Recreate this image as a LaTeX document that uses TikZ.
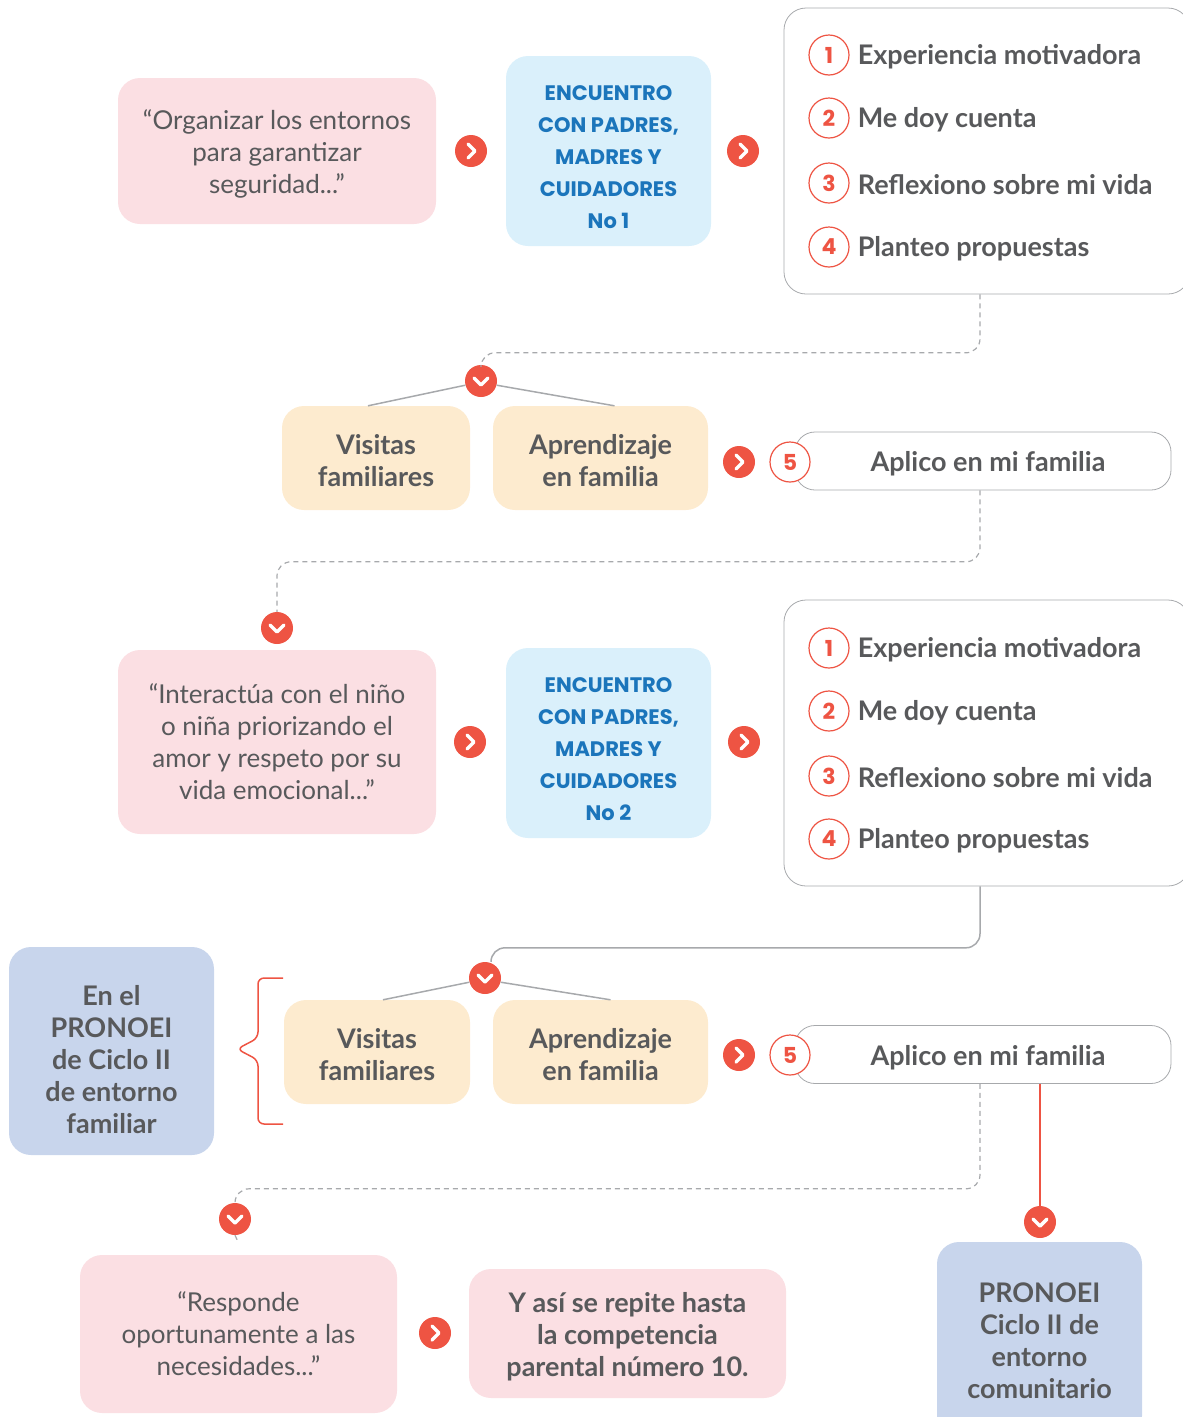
\documentclass[tikz,border=0pt]{standalone}
\usepackage{fontspec}
\setmainfont{Lato}
\newfontfamily\handfont{Poppins}
\usetikzlibrary{positioning}

\definecolor{redc}{HTML}{EE5443}
\definecolor{grayt}{HTML}{58595B}
\definecolor{lineg}{HTML}{A7A9AC}
\definecolor{pinkf}{HTML}{FBDFE3}
\definecolor{bluef}{HTML}{DAF0FB}
\definecolor{bluet}{HTML}{1B75BB}
\definecolor{creamf}{HTML}{FDEBCF}
\definecolor{slatef}{HTML}{C8D5EC}

% primera linea mas alta: baja el texto dentro de la caja
\newcommand\topstrut[1]{\rule{0pt}{#1}}

\begin{document}
\begin{tikzpicture}[
  x=1pt, y=-1pt,
  font=\fontsize{26}{32}\selectfont,
  text=grayt,
  box/.style={rounded corners=22pt, align=center, inner sep=4pt},
  quote/.style={box, fill=pinkf, minimum width=318pt},
  meet/.style={box, fill=bluef, minimum width=205pt, minimum height=190pt,
    text=bluet, font=\handfont\bfseries\fontsize{21}{32}\selectfont},
  act/.style={box, fill=creamf, minimum height=104pt, font=\bfseries\fontsize{27}{32}\selectfont},
  place/.style={box, fill=slatef, minimum width=205pt, font=\bfseries\fontsize{27}{32}\selectfont},
  steps/.style={draw=lineg, line width=0.8pt, rounded corners=22pt,
    minimum width=406pt, minimum height=286pt},
  apply/.style={draw=lineg, line width=0.8pt, rounded corners=20pt,
    minimum width=376pt, minimum height=58pt, font=\bfseries\fontsize{27}{32}\selectfont},
  num/.style={circle, draw=redc, fill=white, line width=1.2pt, minimum size=40pt,
    inner sep=0pt, text=redc, font=\handfont\bfseries\fontsize{22}{26}\selectfont},
  item/.style={inner sep=0pt, yshift=-2pt, font=\bfseries\fontsize{27}{32}\selectfont},
  chevR/.style={circle, fill=redc, minimum size=32pt, inner sep=0pt,
    path picture={\draw[white, line width=3.5pt, line cap=round, line join=round]
      ([xshift=-3pt,yshift=7pt]path picture bounding box.center) -- ++(7pt,-7pt) -- ++(-7pt,-7pt);}},
  chevD/.style={circle, fill=redc, minimum size=32pt, inner sep=0pt,
    path picture={\draw[white, line width=3.5pt, line cap=round, line join=round]
      ([xshift=-7pt,yshift=3pt]path picture bounding box.center) -- ++(7pt,-7pt) -- ++(7pt,7pt);}},
  dashlink/.style={draw=lineg, line width=1.2pt, dash pattern=on 5pt off 4pt, rounded corners=14pt},
  link/.style={draw=lineg, line width=1.5pt, rounded corners=14pt}
]
\clip (0,0) rectangle (1183,1417);

% Primer encuentro
\node[quote, minimum height=146pt] (q1) at (277,151)
  {\topstrut{25pt}\textquotedblleft Organizar los entornos\\para garantizar\\seguridad...\textquotedblright};
\node[chevR] (c1) at (471,151) {};
\node[meet] (e1) at (608.5,151) {\topstrut{27pt}ENCUENTRO\\CON PADRES,\\MADRES Y\\CUIDADORES\\No 1};
\node[chevR] (c2) at (743,151) {};
\node[steps] (l1) at (987,151) {};
\node[num] (n11) at (829,55) {1};
\node[num] (n12) at (829,118) {2};
\node[num] (n13) at (829,183) {3};
\node[num] (n14) at (829,247) {4};
\node[item, right=8pt of n11] {Experiencia motivadora};
\node[item, right=8pt of n12] {Me doy cuenta};
\node[item, right=8pt of n13] {Reflexiono sobre mi vida};
\node[item, right=8pt of n14] {Planteo propuestas};

% Actividades 1
\node[chevD] (d1) at (481,381) {};
\node[act, minimum width=188pt] (v1) at (376,458) {\topstrut{26pt}Visitas\\familiares};
\node[act, minimum width=215pt] (a1) at (600.5,458) {\topstrut{26pt}Aprendizaje\\en familia};
\node[chevR] (c3) at (739,462) {};
\node[apply] (p1) at (983,461) {\topstrut{26pt}\hspace*{10pt}Aplico en mi familia};
\node[num] (n15) at (790,462) {5};

% Segundo encuentro
\node[chevD] (d2) at (277,628) {};
\node[quote, minimum height=184pt] (q2) at (277,742)
  {\textquotedblleft Interactúa con el niño\\o niña priorizando el\\amor y respeto por su\\vida emocional...\textquotedblright};
\node[chevR] (c4) at (470,742) {};
\node[meet] (e2) at (608.5,743) {\topstrut{27pt}ENCUENTRO\\CON PADRES,\\MADRES Y\\CUIDADORES\\No 2};
\node[chevR] (c5) at (744,742) {};
\node[steps] (l2) at (987,743) {};
\node[num] (n21) at (829,648) {1};
\node[num] (n22) at (829,711) {2};
\node[num] (n23) at (829,776) {3};
\node[num] (n24) at (829,839) {4};
\node[item, right=8pt of n21] {Experiencia motivadora};
\node[item, right=8pt of n22] {Me doy cuenta};
\node[item, right=8pt of n23] {Reflexiono sobre mi vida};
\node[item, right=8pt of n24] {Planteo propuestas};

% Actividades 2
\node[chevD] (d3) at (485,978) {};
\node[place, minimum height=208pt] (s1) at (111.5,1051)
  {\topstrut{37pt}En el\\PRONOEI\\de Ciclo II\\de entorno\\familiar};
\node[act, minimum width=186pt] (v2) at (377,1052) {\topstrut{26pt}Visitas\\familiares};
\node[act, minimum width=215pt] (a2) at (600.5,1052) {\topstrut{26pt}Aprendizaje\\en familia};
\node[chevR] (c6) at (739,1055) {};
\node[apply] (p2) at (983,1054.5) {\topstrut{26pt}\hspace*{10pt}Aplico en mi familia};
\node[num] (n25) at (790,1055) {5};

% Cierre
\node[chevD] (d4) at (235,1219) {};
\node[chevD] (d5) at (1040,1222) {};
\node[quote, minimum width=317pt, minimum height=158pt] (q3) at (238.5,1334)
  {\textquotedblleft Responde\\oportunamente a las\\necesidades...\textquotedblright};
\node[chevR] (c7) at (435,1333) {};
\node[quote, minimum width=317pt, minimum height=129pt, font=\bfseries\fontsize{27}{32}\selectfont] (f1) at (627.5,1333.5)
  {\topstrut{26pt}Y así se repite hasta\\la competencia\\parental número 10.};
\node[place, minimum height=196pt] (s2) at (1039.5,1340)
  {\topstrut{22pt}PRONOEI\\Ciclo II de\\entorno\\comunitario};

% Conectores
\draw[dashlink] ([xshift=-7pt]l1.south) |- ([yshift=12pt]d1.north) -- (d1.north);
\draw[lineg, line width=1.5pt] (d1.195) -- ([xshift=-8pt]v1.north);
\draw[lineg, line width=1.5pt] (d1.345) -- ([xshift=14pt]a1.north);
\draw[dashlink] ([xshift=-3pt]p1.south) |- ([yshift=50pt]d2.north) -- (d2.north);
\draw[link] ([xshift=-7pt]l2.south) |- ([yshift=14pt,xshift=6pt]d3.north) -- ([xshift=6pt]d3.north);
\draw[lineg, line width=1.5pt] (d3.195) -- ([xshift=6pt]v2.north);
\draw[lineg, line width=1.5pt] (d3.345) -- ([xshift=10pt]a2.north);
\draw[dashlink] ([xshift=-3pt]p2.south) |- ([yshift=14pt]d4.north) -- (d4.north);
\draw[dashlink] (d4.south) -- ([yshift=12pt]q3.north);
\draw[redc, line width=1.5pt] (p2.south -| d5) -- (d5.north);

% Llave
\draw[redc, line width=1.5pt, rounded corners=6pt]
  (283,978) -- (258,978) -- (258,1038) -- (237,1049) -- (258,1060) -- (258,1124) -- (283,1124);
\end{tikzpicture}
\end{document}
